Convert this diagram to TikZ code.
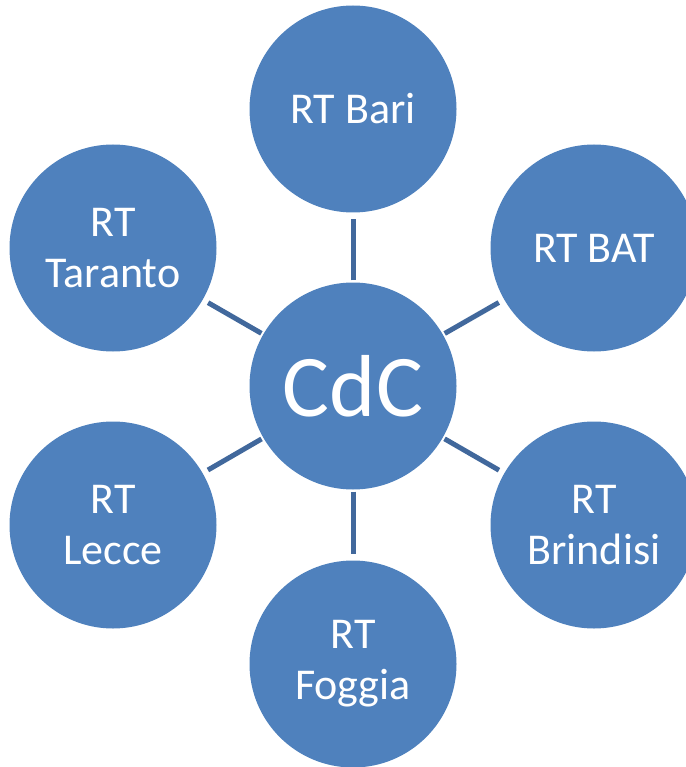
\documentclass[tikz,border=0pt]{standalone}
\usepackage{fontspec}
\setmainfont{Carlito}
\definecolor{bubble}{HTML}{4F81BD}
\definecolor{link}{HTML}{41689C}
\begin{document}
\begin{tikzpicture}[x=1pt,y=-1pt,
  bubblebox/.style={circle,fill=bubble,draw=none,minimum size=207pt,inner sep=0pt,
    text=white,align=center,font=\fontsize{44}{51}\selectfont},
  linkline/.style={draw=link,line width=5pt,shorten <=2pt,shorten >=6pt}]
\useasboundingbox (0,0) rectangle (685,767);
\node[bubblebox,font=\fontsize{88}{100}\selectfont] (c) at (353,386) {CdC};
\node[bubblebox] (bari) at (353,109) {RT Bari};
\node[bubblebox] (bat) at (594,248) {RT BAT};
\node[bubblebox] (brindisi) at (594,525) {RT\\Brindisi};
\node[bubblebox] (foggia) at (353,664) {RT\\Foggia};
\node[bubblebox] (lecce) at (113,525) {RT\\Lecce};
\node[bubblebox] (taranto) at (113,248) {RT\\Taranto};
\foreach \n in {bari,bat,brindisi,foggia,lecce,taranto}
  \draw[linkline] (c) -- (\n);
\end{tikzpicture}
\end{document}
